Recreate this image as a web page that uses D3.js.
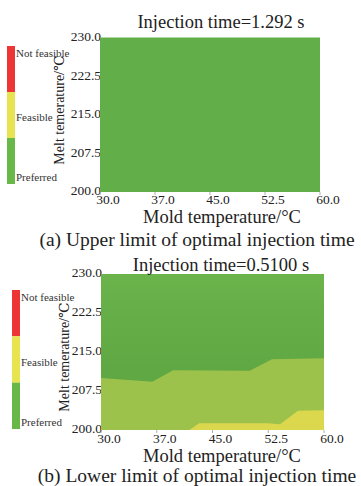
<!DOCTYPE html>
<html>
<head>
<meta charset="utf-8">
<script src="https://cdn.jsdelivr.net/npm/d3@7"></script>
<style>
body { margin:0; background:#fff; }
svg text { font-family: "Liberation Serif", "DejaVu Serif", serif; fill:#222; }
</style>
</head>
<body>
<div id="chart"></div>
<script>
// axis ticks
var moldTicks = [30, 37.5, 45, 52.5, 60];
var moldTickLabels = ["30.0", "37.0", "45.0", "52.5", "60.0"];
var meltTicks = [200, 207.5, 215, 222.5, 230];
var meltTickLabels = ["200.0", "207.5", "215.0", "222.5", "230.0"];

// legend
var zones = ["Not feasible", "Feasible", "Preferred"];
var zoneColors = ["#ee3535", "#e8e350", "#68b848"];

// (a) upper limit: whole window preferred
var titleA = "Injection time=1.292 s";
var captionA = "(a) Upper limit of optimal injection time";

// (b) lower limit: boundaries
var titleB = "Injection time=0.5100 s";
var captionB = "(b) Lower limit of optimal injection time";
var feasibleEdgeMold = [30, 36.9, 39.7, 50.0, 53.0, 60];
var feasibleEdgeMelt = [210.0, 209.3, 211.5, 211.4, 213.6, 213.8];
var yellowEdgeMold = [41.9, 43.2, 52.3, 54.1, 56.5, 60];
var yellowEdgeMelt = [200, 201.3, 201.3, 201.1, 203.7, 203.8];

var SERIF = "'Liberation Serif', 'DejaVu Serif', serif";
var W = 361, H = 486;
var svg = d3.select("#chart").append("svg")
	.attr("width", W)
	.attr("height", H)
	.attr("font-family", SERIF);

var defs = svg.append("defs");
var grad = defs.append("linearGradient")
	.attr("id", "prefGrad")
	.attr("x1", 0).attr("x2", 0).attr("y1", 0).attr("y2", 1);
grad.append("stop").attr("offset", "0%").attr("stop-color", "#6bb34b");
grad.append("stop").attr("offset", "60%").attr("stop-color", "#5fa843");
grad.append("stop").attr("offset", "100%").attr("stop-color", "#5fa843");

function drawPanel(p) {
	var x = d3.scaleLinear().domain([30, 60]).range([p.left, p.right]);
	var y = d3.scaleLinear().domain([200, 230]).range([p.bottom, p.top]);
	var g = svg.append("g");

	// y tick labels (drawn first so the map covers their edge)
	g.selectAll(".ytick").data(meltTicks).enter().append("text")
		.attr("x", p.left + 1)
		.attr("y", function(d){ return y(d); })
		.attr("dy", "0.25em")
		.attr("text-anchor", "end")
		.style("font-family", SERIF)
		.style("font-size", "13.5px")
		.text(function(d, i){ return meltTickLabels[i]; });

	// map
	g.append("rect")
		.attr("x", x(30)).attr("y", y(230))
		.attr("width", x(60) - x(30))
		.attr("height", y(200) - y(230))
		.attr("fill", p.prefFill);

	if (p.feasible) {
		var pts = p.feasible.mold.map(function(m, i){ return [m, p.feasible.melt[i]]; });
		var area = d3.area()
			.x(function(d){ return x(d[0]); })
			.y0(y(200))
			.y1(function(d){ return y(d[1]); });
		g.append("path").datum(pts)
			.attr("d", area)
			.attr("fill", "#9dc24c");
	}
	if (p.yellow) {
		var ypts = p.yellow.mold.map(function(m, i){ return [m, p.yellow.melt[i]]; });
		var area2 = d3.area()
			.x(function(d){ return x(d[0]); })
			.y0(y(200))
			.y1(function(d){ return y(d[1]); });
		g.append("path").datum(ypts)
			.attr("d", area2)
			.attr("fill", "#dcd84e");
	}

	// x axis ticks
	g.selectAll(".xtk").data(moldTicks).enter().append("line")
		.attr("x1", function(d){ return x(d); })
		.attr("x2", function(d){ return x(d); })
		.attr("y1", p.bottom).attr("y2", p.bottom + 3)
		.attr("stroke", "#999").attr("stroke-width", 0.8);
	g.selectAll(".xtick").data(moldTicks).enter().append("text")
		.attr("x", function(d){ return x(d) + 8; })
		.attr("y", p.xtickY)
		.attr("text-anchor", "middle")
		.style("font-family", SERIF)
		.style("font-size", "13.5px")
		.text(function(d, i){ return moldTickLabels[i]; });

	// titles
	g.append("text")
		.attr("x", 221).attr("y", p.titleY)
		.attr("text-anchor", "middle")
		.style("font-family", SERIF)
		.style("font-size", "18.5px")
		.text(p.title);
	g.append("text")
		.attr("x", 222).attr("y", p.xlabY)
		.attr("text-anchor", "middle")
		.style("font-family", SERIF)
		.style("font-size", "18.5px")
		.text("Mold temperature/°C");
	g.append("text")
		.attr("x", 197).attr("y", p.capY)
		.attr("text-anchor", "middle")
		.style("font-family", SERIF)
		.style("font-size", "19.5px")
		.text(p.caption);
	g.append("text")
		.attr("transform", "translate(" + p.ylabX + "," + p.ylabCy + ") rotate(-90)")
		.attr("text-anchor", "middle")
		.style("font-family", SERIF)
		.style("font-size", "14px")
		.text("Melt temerature/℃");

	// legend bar
	var lg = d3.scaleBand().domain(zones).range([p.legTop, p.legBottom]);
	g.selectAll(".seg").data(zones).enter().append("rect")
		.attr("x", p.legX).attr("width", 8)
		.attr("y", function(d){ return lg(d); })
		.attr("height", lg.bandwidth())
		.attr("fill", function(d, i){ return zoneColors[i]; });
	var labOffsets = [0.15, 0.55, 0.85];
	g.selectAll(".lab").data(zones).enter().append("text")
		.attr("x", p.legX + 9)
		.attr("y", function(d, i){ return lg(d) + lg.bandwidth() * labOffsets[i]; })
		.attr("dy", "0.35em")
		.style("font-family", SERIF)
		.style("font-size", "11px")
		.style("fill", "#333")
		.text(function(d){ return d; });
}

drawPanel({
	left:100, right:320, top:37.5, bottom:192,
	prefFill:"#62ae48",
	title:titleA, titleY:28, xtickY:204, xlabY:223, capY:246, caption:captionA,
	ylabX:64, ylabCy:110,
	legX:7, legTop:46, legBottom:184
});

drawPanel({
	left:101, right:324, top:274, bottom:430,
	prefFill:"url(#prefGrad)",
	feasible:{mold:feasibleEdgeMold, melt:feasibleEdgeMelt},
	yellow:{mold:yellowEdgeMold, melt:yellowEdgeMelt},
	title:titleB, titleY:271, xtickY:443, xlabY:462, capY:482, caption:captionB,
	ylabX:69, ylabCy:357,
	legX:12, legTop:290, legBottom:429
});
</script>
</body>
</html>
